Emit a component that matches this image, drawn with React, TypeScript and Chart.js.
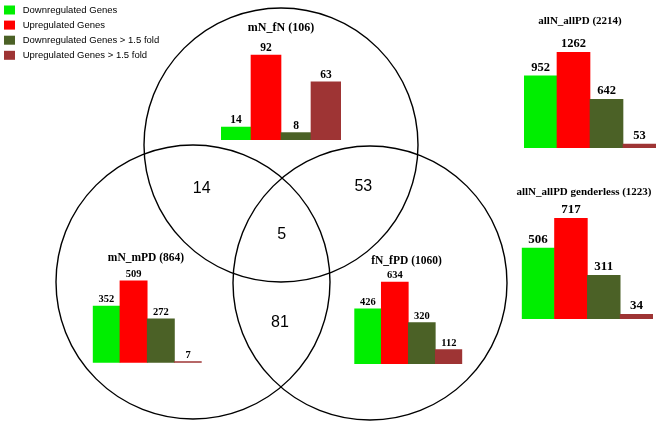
import React, { useEffect, useRef } from "react";
import { Chart, registerables } from "chart.js";

Chart.register(...registerables);

// ---------------- data ----------------
const categories = [
  "Downregulated Genes",
  "Upregulated Genes",
  "Downregulated Genes > 1.5 fold",
  "Upregulated Genes > 1.5 fold",
];
const mNfNValues = [14, 92, 8, 63];
const mNmPDValues = [352, 509, 272, 7];
const fNfPDValues = [426, 634, 320, 112];
const allNallPDValues = [952, 1262, 642, 53];
const allNallPDGenderlessValues = [506, 717, 311, 34];
const panelTitles = [
  "mN_fN (106)",
  "mN_mPD (864)",
  "fN_fPD (1060)",
  "allN_allPD (2214)",
  "allN_allPD genderless (1223)",
];
const vennSets = ["mN_fN", "mN_mPD", "fN_fPD"];
// overlaps: mN_fN∩mN_mPD, mN_fN∩fN_fPD, all three, mN_mPD∩fN_fPD
const overlapCounts = [14, 53, 5, 81];

// ---------------- layout / style ----------------
const W = 661;
const H = 425;
const COLORS = ["#00ee00", "#ff0000", "#4b6126", "#9e3434"];
const SERIF = "'Liberation Serif', 'Times New Roman', serif";
const SANS = "'Liberation Sans', Arial, sans-serif";

const panels = [
  { values: mNfNValues, title: panelTitles[0], left: 221, right: 341, base: 140, ppu: 0.924, tx: 281, ty: 28, tf: 12, lf: 11.5, gap: 4 },
  { values: mNmPDValues, title: panelTitles[1], left: 92.7, right: 201.7, base: 362.7, ppu: 0.161, tx: 146, ty: 258, tf: 11.5, lf: 10.5, gap: 4 },
  { values: fNfPDValues, title: panelTitles[2], left: 354.3, right: 462.3, base: 364, ppu: 0.1293, tx: 406.5, ty: 260.7, tf: 11.5, lf: 10.5, gap: 4 },
  { values: allNallPDValues, title: panelTitles[3], left: 524, right: 656, base: 148, ppu: 0.0758, tx: 580, ty: 21.5, tf: 11, lf: 12.5, gap: 5 },
  { values: allNallPDGenderlessValues, title: panelTitles[4], left: 521.7, right: 653, base: 319, ppu: 0.1404, tx: 584, ty: 192, tf: 11, lf: 13, gap: 5 },
];

const circleCenters = [
  { x: 281, y: 145 },
  { x: 193, y: 282 },
  { x: 370, y: 283 },
];
const circleRadius = 137;
const overlapPositions = [
  { x: 201.7, y: 188.3 },
  { x: 363.3, y: 186.7 },
  { x: 281.7, y: 235 },
  { x: 280, y: 323 },
];
const legendLayout = { x: 4, y0: 10, dy: 15.1, box: 11, boxH: 9, textX: 22.7, font: 9.5 };

type Panel = (typeof panels)[number];

function makeBarChart(canvas: HTMLCanvasElement, p: Panel) {
  const areaH = 110;
  const textPlugin = {
    id: "barText" + p.title,
    afterDatasetsDraw(chart: any) {
      const ctx = chart.ctx;
      const meta = chart.getDatasetMeta(0);
      ctx.save();
      ctx.fillStyle = "#000";
      ctx.textAlign = "center";
      ctx.textBaseline = "alphabetic";
      ctx.font = `bold ${p.lf}px ${SERIF}`;
      meta.data.forEach((bar: any, i: number) => {
        ctx.fillText(String(p.values[i]), bar.x, bar.y - p.gap);
      });
      ctx.font = `bold ${p.tf}px ${SERIF}`;
      ctx.textBaseline = "middle";
      ctx.fillText(p.title, p.tx, p.ty);
      ctx.restore();
    },
  };
  return new Chart(canvas, {
    type: "bar",
    data: {
      labels: categories,
      datasets: [
        {
          data: p.values,
          backgroundColor: COLORS,
          borderWidth: 0,
          barPercentage: 1,
          categoryPercentage: 1,
        },
      ],
    },
    options: {
      animation: false,
      responsive: false,
      devicePixelRatio: 1,
      events: [],
      layout: {
        padding: { left: p.left, right: W - p.right, top: p.base - areaH, bottom: H - p.base },
      },
      scales: {
        x: { display: false },
        y: { display: false, min: 0, max: areaH / p.ppu },
      },
      plugins: { legend: { display: false }, tooltip: { enabled: false }, title: { display: false } },
    },
    plugins: [textPlugin],
  });
}

function makeVenn(canvas: HTMLCanvasElement) {
  const annot = {
    id: "vennAnnot",
    afterDatasetsDraw(chart: any) {
      const ctx = chart.ctx;
      const xs = chart.scales.x;
      const ys = chart.scales.y;
      ctx.save();
      ctx.fillStyle = "#000";
      ctx.textAlign = "center";
      ctx.textBaseline = "middle";
      ctx.font = `16px ${SANS}`;
      overlapCounts.forEach((c, i) => {
        const pos = overlapPositions[i];
        ctx.fillText(String(c), xs.getPixelForValue(pos.x), ys.getPixelForValue(pos.y));
      });
      // legend
      const L = legendLayout;
      ctx.textAlign = "left";
      ctx.font = `${L.font}px ${SANS}`;
      categories.forEach((cat, i) => {
        const cy = L.y0 + i * L.dy;
        ctx.fillStyle = COLORS[i];
        ctx.fillRect(L.x, cy - L.boxH / 2, L.box, L.boxH);
        ctx.fillStyle = "#000";
        ctx.fillText(cat, L.textX, cy);
      });
      ctx.restore();
    },
  };
  const chart = new Chart(canvas, {
    type: "scatter",
    data: {
      datasets: [
        {
          label: vennSets.join(" / "),
          data: circleCenters,
          pointRadius: circleRadius,
          pointHoverRadius: circleRadius,
          pointBorderWidth: 1.4,
          pointBorderColor: "#000",
          pointBackgroundColor: "rgba(0,0,0,0)",
          showLine: false,
          clip: false as any,
        },
      ],
    },
    options: {
      animation: false,
      responsive: false,
      devicePixelRatio: 1,
      events: [],
      layout: { padding: 0 },
      scales: {
        x: { type: "linear", display: false, min: 0, max: W },
        y: { type: "linear", display: false, min: 0, max: H, reverse: true },
      },
      plugins: { legend: { display: false }, tooltip: { enabled: false } },
    },
    plugins: [annot],
  });
  // Make the scale units equal canvas pixels (the chart area is inset by the point overflow)
  const a = chart.chartArea;
  (chart.options.scales as any).x.min = a.left;
  (chart.options.scales as any).x.max = a.right;
  (chart.options.scales as any).y.min = a.top;
  (chart.options.scales as any).y.max = a.bottom;
  chart.update();
  return chart;
}

export default function App() {
  const vennRef = useRef<HTMLCanvasElement>(null);
  const barRefs = useRef<(HTMLCanvasElement | null)[]>([]);

  useEffect(() => {
    const charts: Chart[] = [];
    if (vennRef.current) charts.push(makeVenn(vennRef.current));
    panels.forEach((p, i) => {
      const c = barRefs.current[i];
      if (c) charts.push(makeBarChart(c, p));
    });
    return () => charts.forEach((c) => c.destroy());
  }, []);

  const cstyle: React.CSSProperties = { position: "absolute", left: 0, top: 0, width: W, height: H };
  return (
    <div style={{ position: "absolute", left: 0, top: 0, width: W, height: H, background: "#fff" }}>
      <canvas ref={vennRef} width={W} height={H} style={cstyle} />
      {panels.map((p, i) => (
        <canvas
          key={p.title}
          ref={(el) => {
            barRefs.current[i] = el;
          }}
          width={W}
          height={H}
          style={cstyle}
        />
      ))}
    </div>
  );
}
